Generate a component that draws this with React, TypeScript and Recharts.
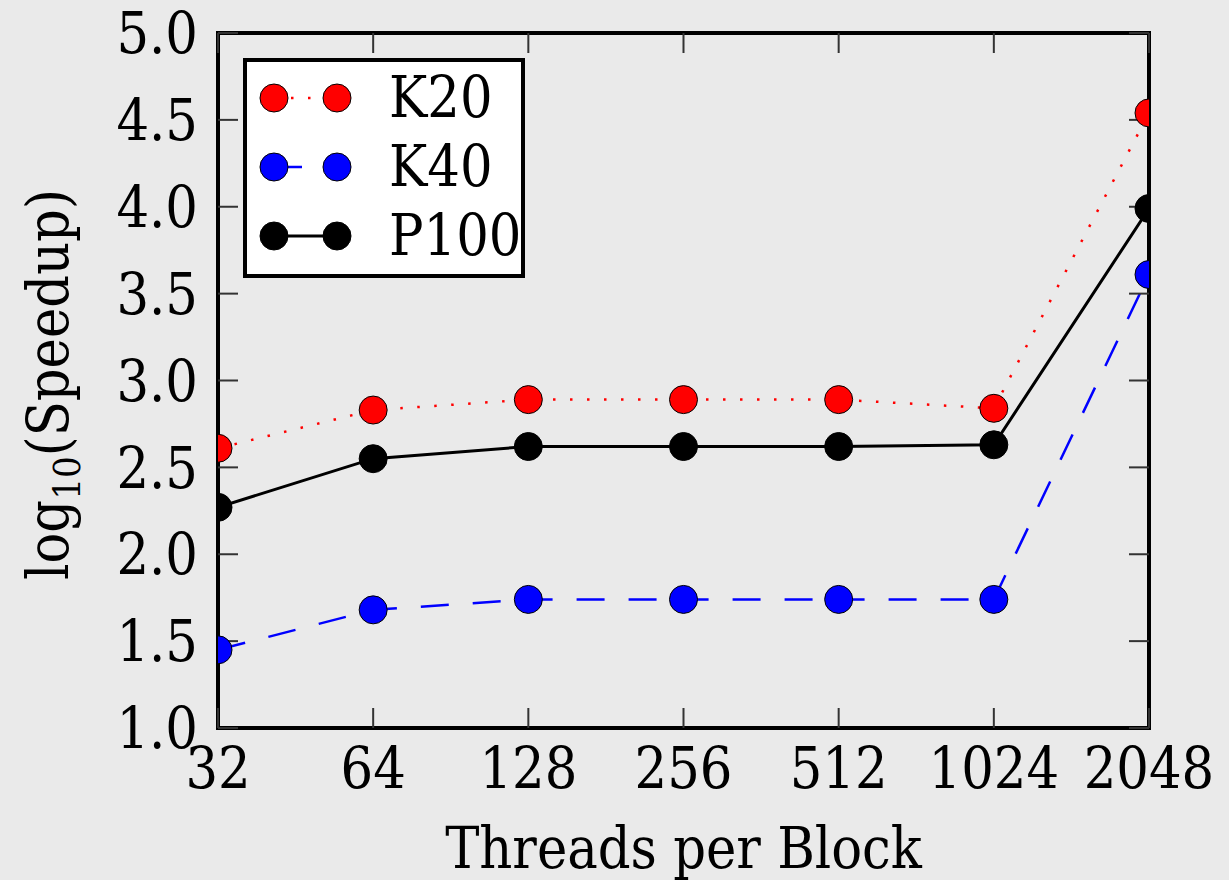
import {
  Legend,
  Line,
  LineChart,
  ReferenceArea,
  XAxis,
  YAxis,
} from "recharts";

const threads = [32, 64, 128, 256, 512, 1024, 2048];
const k20 = [2.61, 2.83, 2.89, 2.89, 2.89, 2.84, 4.54];
const k40 = [1.45, 1.68, 1.74, 1.74, 1.74, 1.74, 3.61];
const p100 = [2.27, 2.55, 2.62, 2.62, 2.62, 2.63, 3.99];
const yTicks = [1.0, 1.5, 2.0, 2.5, 3.0, 3.5, 4.0, 4.5, 5.0];

const data = threads.map((t, i) => ({
  threads: t,
  k20: k20[i],
  k40: k40[i],
  p100: p100[i],
}));

const FONT = "'DejaVu Serif Condensed', 'DejaVu Serif', serif";
const BG = "#eaeaea";

const series = [
  { key: "k20", name: "K20", color: "#ff0000", dash: "2.5 14.5", width: 2.5 },
  { key: "k40", name: "K40", color: "#0000ff", dash: "28 24", width: 2.5 },
  { key: "p100", name: "P100", color: "#000000", dash: undefined, width: 3 },
];

const tickLineStyle = { stroke: "#333", strokeWidth: 2 };
// top / right axes only carry the inward tick marks, no labels
const blankTick = () => <g />;

const YTitle = (props: any) => {
  const vb = props.viewBox ?? { x: 20, y: 33, width: 198, height: 695 };
  const cx = vb.x + 48;
  const cy = vb.y + vb.height / 2 + 4;
  return (
    <text
      x={cx}
      y={cy}
      transform={`rotate(-90 ${cx} ${cy})`}
      textAnchor="middle"
      fontFamily={FONT}
      fontSize={57}
      fill="#000"
    >
      log
      <tspan dy={12} fontSize={38}>
        10
      </tspan>
      <tspan dy={-12}>(Speedup)</tspan>
    </text>
  );
};

const LegendBox = () => (
  <div
    style={{
      background: "#fff",
      border: "4px solid #000",
      boxSizing: "border-box",
      width: 282,
      height: 220,
      padding: "1px 0",
    }}
  >
    {series.map((s) => (
      <div
        key={s.key}
        style={{ display: "flex", alignItems: "center", height: 69 }}
      >
        <svg width={142} height={69} style={{ flex: "none" }}>
          <line
            x1={27}
            x2={90}
            y1={35}
            y2={35}
            stroke={s.color}
            strokeWidth={s.width}
            strokeDasharray={s.dash}
          />
          <circle cx={27} cy={35} r={14} fill={s.color} stroke="#000" strokeWidth={1} />
          <circle cx={90} cy={35} r={14} fill={s.color} stroke="#000" strokeWidth={1} />
        </svg>
        <span
          style={{
            fontFamily: FONT,
            fontSize: 57,
            lineHeight: "69px",
            color: "#000",
          }}
        >
          {s.name}
        </span>
      </div>
    ))}
  </div>
);

export default function App() {
  return (
    <div
      style={{
        position: "absolute",
        left: 0,
        top: 0,
        width: 1229,
        height: 880,
        background: BG,
      }}
    >
      <LineChart
        width={1229}
        height={880}
        data={data}
        margin={{ top: 32, right: 79, bottom: 7, left: 20 }}
      >
        <XAxis
          dataKey="threads"
          type="number"
          scale="log"
          domain={[32, 2048]}
          allowDataOverflow
          ticks={threads}
          interval={0}
          height={145}
          axisLine={false}
          tickLine={tickLineStyle}
          tickSize={-20}
          tickMargin={40}
          tick={{ fontFamily: FONT, fontSize: 57, fill: "#000" }}
          label={{
            value: "Threads per Block",
            position: "insideBottom",
            offset: 5,
            fontFamily: FONT,
            fontSize: 57,
            fill: "#000",
          }}
        />
        <XAxis
          xAxisId="top"
          orientation="top"
          dataKey="threads"
          type="number"
          scale="log"
          domain={[32, 2048]}
          allowDataOverflow
          ticks={threads}
          interval={0}
          height={1}
          axisLine={false}
          tickLine={tickLineStyle}
          tickSize={-20}
          tick={blankTick}
        />
        <YAxis
          domain={[1, 5]}
          ticks={yTicks}
          interval={0}
          allowDataOverflow
          width={198}
          axisLine={false}
          tickLine={tickLineStyle}
          tickSize={-20}
          tickMargin={40}
          tickFormatter={(v: number) => v.toFixed(1)}
          tick={{ fontFamily: FONT, fontSize: 57, fill: "#000" }}
          label={{ content: YTitle }}
        />
        <YAxis
          yAxisId="right"
          orientation="right"
          domain={[1, 5]}
          allowDataOverflow
          ticks={yTicks}
          interval={0}
          width={1}
          axisLine={false}
          tickLine={tickLineStyle}
          tickSize={-20}
          tick={blankTick}
        />
        {series.map((s) => (
          <Line
            key={s.key}
            dataKey={s.key}
            name={s.name}
            type="linear"
            stroke={s.color}
            strokeWidth={s.width}
            strokeDasharray={s.dash}
            dot={{
              r: 14,
              fill: s.color,
              stroke: "#000",
              strokeWidth: 1,
              strokeDasharray: "none",
              clipDot: true,
            }}
            isAnimationActive={false}
          />
        ))}
        <ReferenceArea
          x1={32}
          x2={2048}
          y1={1}
          y2={5}
          fill="none"
          stroke="#000"
          strokeWidth={4}
        />
        <Legend
          layout="horizontal"
          align="center"
          verticalAlign="middle"
          content={LegendBox}
          wrapperStyle={{ left: 243, top: 58, width: 282, height: 220 }}
        />
      </LineChart>
    </div>
  );
}
